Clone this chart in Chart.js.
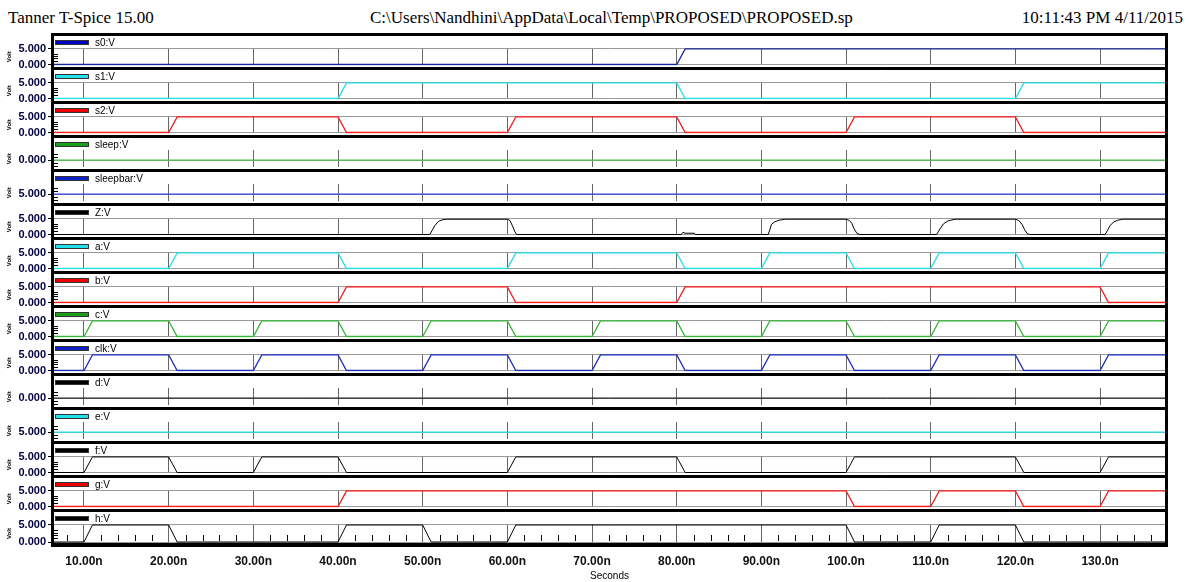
<!DOCTYPE html>
<html>
<head>
<meta charset="utf-8">
<script src="https://cdn.jsdelivr.net/npm/chart.js@4.4.1/dist/chart.umd.min.js"></script>
<style>
  body { margin: 0; background: #fff; width: 1189px; height: 582px; overflow: hidden; position: relative; }
  .hdr { position: absolute; top: 8px; line-height: 20px; font-family: "Liberation Serif", "Times New Roman", serif; font-size: 17px; color: #000; white-space: nowrap; }
  canvas.panel { position: absolute; left: 0; }
  .rule { position: absolute; background: #000; }
</style>
</head>
<body>
<div class="hdr" style="left:8px">Tanner T-Spice 15.00</div>
<div class="hdr" style="left:370px">C:\Users\Nandhini\AppData\Local\Temp\PROPOSED\PROPOSED.sp</div>
<div class="hdr" style="right:6px">10:11:43 PM 4/11/2015</div>
<div id="plots"></div>
<script>
// time axis (ns)
const tMin = 6.457, tMax = 137.67;
const xTicks = [10, 20, 30, 40, 50, 60, 70, 80, 90, 100, 110, 120, 130];
const xTickLabels = ['10.00n', '20.00n', '30.00n', '40.00n', '50.00n', '60.00n', '70.00n', '80.00n', '90.00n', '100.0n', '110.0n', '120.0n', '130.0n'];

// waveforms: [time ns, volts]
const s0 = [[0, 0], [80, 0], [81, 5], [140, 5]];
const s1 = [[0, 0], [40, 0], [41, 5], [80, 5], [81, 0], [120, 0], [121, 5], [140, 5]];
const s2 = [[0, 0], [20, 0], [21, 5], [40, 5], [41, 0], [60, 0], [61, 5], [80, 5], [81, 0], [100, 0], [101, 5], [120, 5], [121, 0], [140, 0]];
const sleep = [[0, 0], [140, 0]];
const sleepbar = [[0, 5], [140, 5]];
const Z = [[0, 0], [50.85, 0], [51.15, 1.5], [51.45, 2.9], [51.85, 4.2], [52.3, 4.7], [52.85, 4.9],
  [60.0, 4.9], [60.3, 4.5], [60.6, 2.8], [60.9, 0.8], [61.1, 0],
  [80.55, 0], [80.75, 0.7], [81.0, 0.4], [82.1, 0.4], [82.2, 0],
  [90.8, 0], [91.0, 1.5], [91.2, 3.3], [91.6, 4.1], [92.1, 4.6], [92.8, 4.9],
  [100.0, 4.9], [100.4, 4.5], [100.7, 3.5], [100.95, 1.8], [101.3, 0.3], [101.65, 0],
  [110.7, 0], [111.1, 1.8], [111.5, 3.4], [112.0, 4.3], [112.5, 4.7], [113.0, 4.9],
  [120.0, 4.9], [120.4, 4.5], [120.8, 3.2], [121.1, 1.5], [121.4, 0.3], [121.7, 0],
  [130.6, 0], [130.9, 1.4], [131.2, 2.9], [131.6, 4.0], [132.1, 4.6], [132.7, 4.9], [140, 4.9]];
const a = [[0, 0], [20, 0], [21, 5], [40, 5], [41, 0], [60, 0], [61, 5], [80, 5], [81, 0], [90, 0], [91, 5], [100, 5], [101, 0], [110, 0], [111, 5], [120, 5], [121, 0], [130, 0], [131, 5], [140, 5]];
const b = [[0, 0], [40, 0], [41, 5], [60, 5], [61, 0], [80, 0], [81, 5], [130, 5], [131, 0], [140, 0]];
const c = [[0, 0], [10, 0], [11, 5], [20, 5], [21, 0], [30, 0], [31, 5], [40, 5], [41, 0], [50, 0], [51, 5], [60, 5], [61, 0], [70, 0], [71, 5], [80, 5], [81, 0], [90, 0], [91, 5], [100, 5], [101, 0], [110, 0], [111, 5], [120, 5], [121, 0], [130, 0], [131, 5], [140, 5]];
const clk = [[0, 0], [10, 0], [11, 5], [20, 5], [21, 0], [30, 0], [31, 5], [40, 5], [41, 0], [50, 0], [51, 5], [60, 5], [61, 0], [70, 0], [71, 5], [80, 5], [81, 0], [90, 0], [91, 5], [100, 5], [101, 0], [110, 0], [111, 5], [120, 5], [121, 0], [130, 0], [131, 5], [140, 5]];
const d = [[0, 0], [140, 0]];
const e = [[0, 5], [140, 5]];
const f = [[0, 0], [10, 0], [11, 5], [20, 5], [21, 0], [30, 0], [31, 5], [40, 5], [41, 0], [60, 0], [61, 5], [80, 5], [81, 0], [100, 0], [101, 5], [120, 5], [121, 0], [130, 0], [131, 5], [140, 5]];
const g = [[0, 0], [40, 0], [41, 5], [100, 5], [101, 0], [110, 0], [111, 5], [120, 5], [121, 0], [130, 0], [131, 5], [140, 5]];
const h = [[0, 0], [10, 0], [11, 5], [20, 5], [21, 0], [40, 0], [41, 5], [50, 5], [51, 0], [60, 0], [61, 5], [100, 5], [101, 0], [110, 0], [111, 5], [120, 5], [121, 0], [140, 0]];

// y ranges / ticks per kind of panel
const rangeSwing = [-0.294, 5.294], ticksSwing = [0, 5], minorSwing = [1.2, 2.0, 2.7, 3.5];
const rangeLow = [-2.35, 3.24], ticksLow = [0], minorLow = [1.9, 1.1, -1.0, -1.8];
const rangeHigh = [2.65, 8.24], ticksHigh = [5], minorHigh = [6.9, 6.1, 4.0, 3.2];

const BLUE = '#1f2fc0', CYAN = '#20e0e8', RED = '#ff1a1a', GREEN = '#36b836', BLACK = '#000';

const panels = [
  { label: 's0:V', data: s0, color: '#1a2a9a', swatch: '#0000c8', kind: 'swing' },
  { label: 's1:V', data: s1, color: CYAN, swatch: CYAN, kind: 'swing' },
  { label: 's2:V', data: s2, color: RED, swatch: '#ee0000', kind: 'swing' },
  { label: 'sleep:V', data: sleep, color: '#48c048', swatch: '#18a018', kind: 'low' },
  { label: 'sleepbar:V', data: sleepbar, color: '#3444e0', swatch: '#1020c8', kind: 'high' },
  { label: 'Z:V', data: Z, color: BLACK, swatch: BLACK, kind: 'swing' },
  { label: 'a:V', data: a, color: CYAN, swatch: CYAN, kind: 'swing' },
  { label: 'b:V', data: b, color: RED, swatch: '#ee0000', kind: 'swing' },
  { label: 'c:V', data: c, color: GREEN, swatch: '#18a018', kind: 'swing' },
  { label: 'clk:V', data: clk, color: BLUE, swatch: '#1020c8', kind: 'swing' },
  { label: 'd:V', data: d, color: BLACK, swatch: BLACK, kind: 'low' },
  { label: 'e:V', data: e, color: CYAN, swatch: CYAN, kind: 'high' },
  { label: 'f:V', data: f, color: BLACK, swatch: BLACK, kind: 'swing' },
  { label: 'g:V', data: g, color: RED, swatch: '#ee0000', kind: 'swing' },
  { label: 'h:V', data: h, color: BLACK, swatch: BLACK, kind: 'swing' }
];

const kinds = {
  swing: { range: rangeSwing, ticks: ticksSwing, minor: minorSwing },
  low: { range: rangeLow, ticks: ticksLow, minor: minorLow },
  high: { range: rangeHigh, ticks: ticksHigh, minor: minorHigh }
};

// minor ticks along the time axis every 2ns
const xMinor = [];
for (let t = 8; t < tMax; t += 2) {
  if (t % 10 !== 0) xMinor.push(t);
}

Chart.defaults.font.family = '"Liberation Sans", Arial, sans-serif';

// signal name + colour swatch in the band above each trace
const bandLegend = {
  id: 'bandLegend',
  afterDraw(chart) {
    const ds = chart.data.datasets[0];
    const ctx = chart.ctx;
    const x0 = chart.chartArea.left;
    ctx.save();
    ctx.fillStyle = ds.swatch;
    ctx.fillRect(x0 + 1, 7, 34, 4);
    ctx.strokeStyle = '#333';
    ctx.lineWidth = 1;
    ctx.strokeRect(x0 + 1.5, 6.5, 33, 4);
    ctx.fillStyle = '#000';
    ctx.font = '10px "Liberation Sans", Arial, sans-serif';
    ctx.textBaseline = 'middle';
    ctx.fillText(ds.label, x0 + 41, 9);
    ctx.restore();
  }
};

// small tick marks drawn inside the plot frame
const innerTicks = {
  id: 'innerTicks',
  afterDatasetsDraw(chart, args, opts) {
    const { ctx, chartArea, scales } = chart;
    ctx.save();
    ctx.strokeStyle = '#000';
    ctx.lineWidth = 1;
    ctx.beginPath();
    (opts.y || []).forEach(v => {
      const y = Math.round(scales.y.getPixelForValue(v)) + 0.5;
      ctx.moveTo(chartArea.left, y);
      ctx.lineTo(chartArea.left + 4, y);
    });
    (opts.x || []).forEach(v => {
      const x = Math.round(scales.x.getPixelForValue(v)) + 0.5;
      ctx.moveTo(x, chartArea.bottom - 2);
      ctx.lineTo(x, chartArea.bottom - 8);
    });
    ctx.stroke();
    ctx.restore();
  }
};

const holder = document.getElementById('plots');

panels.forEach((p, k) => {
  const last = k === panels.length - 1;
  const kind = kinds[p.kind];
  const cv = document.createElement('canvas');
  cv.className = 'panel';
  cv.width = 1189;
  cv.height = last ? 72 : 40;
  cv.style.top = (34 + 34 * k) + 'px';
  holder.appendChild(cv);

  new Chart(cv.getContext('2d'), {
    type: 'line',
    data: {
      datasets: [{
        label: p.label,
        data: p.data.map(([x, y]) => ({ x: x, y: y })),
        borderColor: p.color,
        borderWidth: p.color === BLACK ? 1 : 1.3,
        swatch: p.swatch,
        pointRadius: 0,
        tension: 0,
        fill: false
      }]
    },
    options: {
      responsive: false,
      animation: false,
      devicePixelRatio: 1,
      events: [],
      layout: { padding: { top: 14, right: 24, bottom: last ? 0 : 7, left: 0 } },
      plugins: {
        legend: { display: false },
        tooltip: { enabled: false },
        innerTicks: { y: kind.minor, x: last ? xMinor : [] }
      },
      scales: {
        x: {
          type: 'linear',
          min: tMin,
          max: tMax,
          afterBuildTicks: s => { s.ticks = xTicks.map(v => ({ value: v })); },
          afterFit: s => { s.height = last ? 39 : 0; },
          grid: { color: '#666', lineWidth: 1, drawTicks: false },
          border: { display: false },
          ticks: {
            display: last,
            padding: 11,
            maxRotation: 0,
            autoSkip: false,
            color: '#111',
            font: { size: 12, weight: 'bold' },
            callback: v => xTickLabels[xTicks.indexOf(v)]
          },
          title: { display: last, text: 'Seconds', color: '#000', font: { size: 10 }, padding: 0 }
        },
        y: {
          min: kind.range[0],
          max: kind.range[1],
          afterBuildTicks: s => { s.ticks = kind.ticks.map(v => ({ value: v })); },
          afterFit: s => { s.width = 54; },
          grid: { color: '#999', lineWidth: 1, tickLength: 6, tickColor: '#000' },
          border: { display: false },
          ticks: {
            padding: 2,
            color: '#000040',
            font: { size: 11, weight: 'bold' },
            callback: v => v.toFixed(3)
          },
          title: { display: true, text: 'Volt', color: '#000', font: { size: 6, weight: 'bold' }, padding: { top: 6, bottom: 0 } }
        }
      }
    },
    plugins: [bandLegend, innerTicks]
  });
});

// thick frame and panel separators
function rule(left, top, width, height) {
  const r = document.createElement('div');
  r.className = 'rule';
  r.style.left = left + 'px';
  r.style.top = top + 'px';
  r.style.width = width + 'px';
  r.style.height = height + 'px';
  document.body.appendChild(r);
}
rule(51, 33, 1117, 3);
rule(51, 33, 3, 514);
rule(1165, 33, 3, 514);
rule(51, 543, 1117, 4);
for (let k = 1; k < panels.length; k++) rule(51, 33 + 34 * k, 1117, 3);
</script>
</body>
</html>
